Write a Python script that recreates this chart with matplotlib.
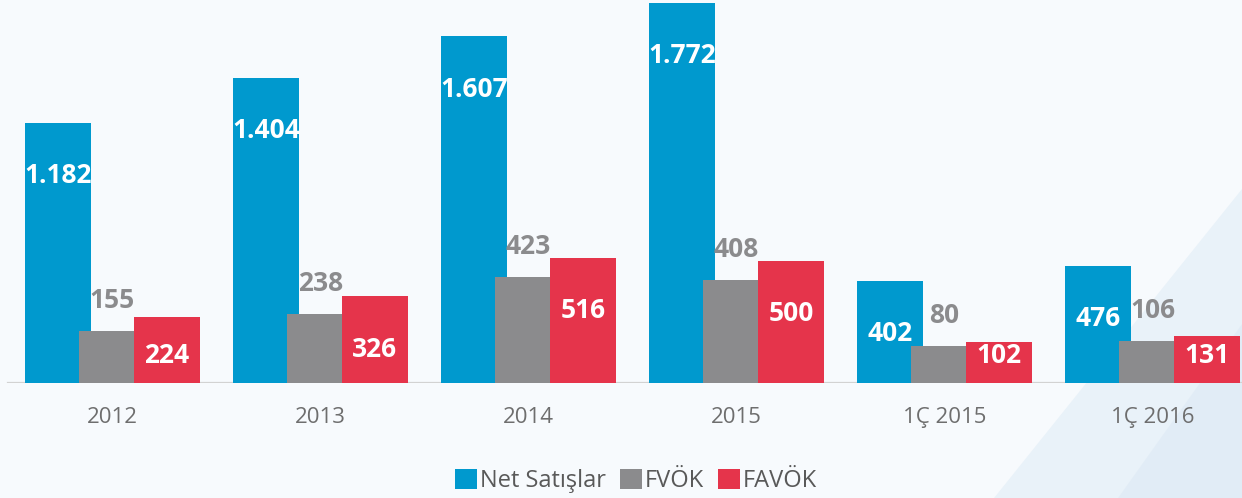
import numpy as np
import matplotlib
matplotlib.use("Agg")
import matplotlib.pyplot as plt
from matplotlib.patches import Patch

categories = ["2012", "2013", "2014", "2015", "1Ç 2015", "1Ç 2016"]
net_satislar = [1182, 1404, 1607, 1772, 402, 476]
fvok = [155, 238, 423, 408, 80, 106]
favok = [224, 326, 516, 500, 102, 131]
net_labels = ["1.182", "1.404", "1.607", "1.772", "402", "476"]
fvok_labels = ["155", "238", "423", "408", "80", "106"]
favok_labels = ["224", "326", "516", "500", "102", "131"]
series_names = ["Net Satışlar", "FVÖK", "FAVÖK"]

BLUE = "#0099CE"
GRAY = "#8B8B8D"
RED = "#E5344B"

BASE = -102.4          # axis floor (bars grow from the axis bottom)
TOP = 1786.7
W = 0.322
OFF = 0.262
DROP = 260             # label offset below bar top (data units)
MINLIFT = 135          # min label height above floor
GRAY_LIFT = 150

plt.rcParams['font.family'] = ['Open Sans', 'DejaVu Sans']

fig = plt.figure(figsize=(12.42, 4.98), dpi=100)
fig.patch.set_facecolor("#f7fafd")

# subtle light-blue sweep in the lower right of the background
bg = fig.add_axes([0, 0, 1, 1], zorder=-1)
bg.set_xlim(0, 1)
bg.set_ylim(0, 1)
bg.axis("off")
bg.fill([0.80, 1.0, 1.0], [0.0, 0.0, 0.62], color="#e6f0f8", alpha=0.8, lw=0)
bg.fill([0.90, 1.0, 1.0], [0.0, 0.0, 0.35], color="#dde9f4", alpha=0.6, lw=0)

ax = fig.add_axes([0, 0.2303, 1, 0.7697])
ax.set_facecolor("none")

x = np.arange(len(categories))
ax.set_xlim(-112.5 / 208, (1242 - 112.5) / 208)
ax.set_ylim(BASE, TOP)

net = np.array(net_satislar)
fv = np.array(fvok)
fa = np.array(favok)

ax.bar(x - OFF, net - BASE, bottom=BASE, width=W, color=BLUE, zorder=2, clip_on=False)
ax.bar(x, fv - BASE, bottom=BASE, width=W, color=GRAY, zorder=3, clip_on=False)
ax.bar(x + OFF, fa - BASE, bottom=BASE, width=W, color=RED, zorder=4, clip_on=False)

ax.axhline(BASE, xmin=8 / 1242, xmax=1, color="#d2d2d2", lw=1.6, zorder=1.5)

lab_fs = 19
for i in range(len(categories)):
    ax.text(x[i] - OFF, max(net[i] - DROP, BASE + MINLIFT), net_labels[i],
            ha="center", va="center", color="white", fontsize=lab_fs,
            fontweight="bold", zorder=6)
    ax.text(x[i], fv[i] + GRAY_LIFT, fvok_labels[i],
            ha="center", va="center", color=GRAY, fontsize=lab_fs,
            fontweight="bold", zorder=6)
    ax.text(x[i] + OFF, max(fa[i] - DROP, BASE + MINLIFT), favok_labels[i],
            ha="center", va="center", color="white", fontsize=lab_fs,
            fontweight="bold", zorder=6)

ax.set_xticks(x)
ax.set_xticklabels(categories, fontsize=16, color="#6e6e6e")
ax.tick_params(axis="x", length=0, pad=17)
ax.set_yticks([])
for s in ax.spines.values():
    s.set_visible(False)

handles = [Patch(facecolor=c, edgecolor="none") for c in (BLUE, GRAY, RED)]
fig.legend(handles, series_names, loc="center", bbox_to_anchor=(0.512, 0.034),
           ncol=3, frameon=False, fontsize=17, handlelength=0.95, handleheight=0.95,
           handletextpad=0.1, columnspacing=0.6, labelcolor="#595959")

fig.savefig("out.png", dpi=100, facecolor=fig.get_facecolor())
